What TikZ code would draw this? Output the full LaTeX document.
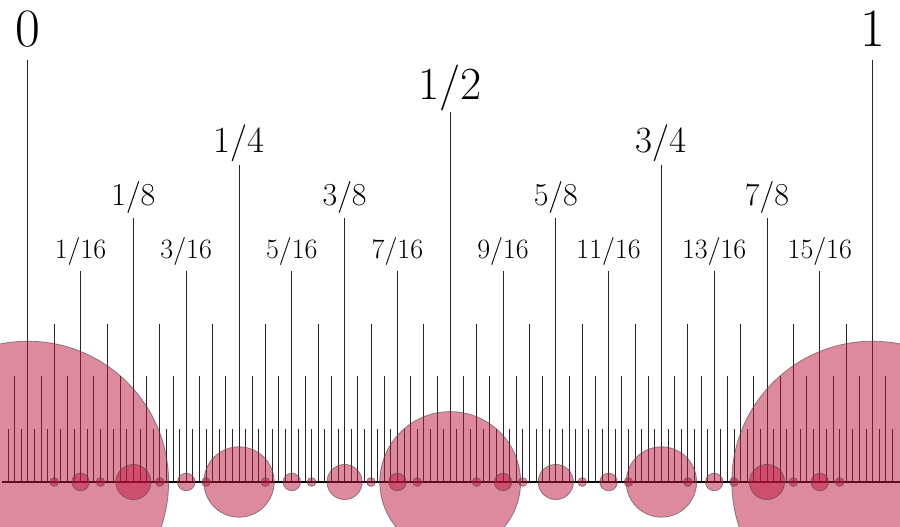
\documentclass[tikz,border=0pt]{standalone}
\usepackage{fontspec}
\definecolor{rosefill}{RGB}{189,21,61}
\begin{document}
\begin{tikzpicture}[x=1pt,y=1pt,
  tick/.style={draw=black!85,line width=0.9pt},
  axisline/.style={draw=black,line width=2.8pt},
  circ/.style={fill=rosefill,fill opacity=0.5,draw=black!70,draw opacity=0.6,line width=0.8pt},
  lab/.style={anchor=base,inner sep=0pt,text=black},
  lv0/.style={lab,font=\fontsize{54}{54}\selectfont},
  lv1/.style={lab,font=\fontsize{46}{46}\selectfont},
  lv2/.style={lab,font=\fontsize{37}{37}\selectfont},
  lv3/.style={lab,font=\fontsize{32}{32}\selectfont},
  lv4/.style={lab,font=\fontsize{28}{28}\selectfont}]
\useasboundingbox (0,0) rectangle (900,527);
\clip (0,0) rectangle (900,527);
\def\X{27.8}
\def\U{844.8}
\def\B{45}
\def\H{52.8}
% ticks (multiples of 1/128)
\foreach \i in {-3,-1,...,131} \draw[tick] ({\X+\U/128*\i},\B) -- ++(0,\H);
\foreach \i in {-2,2,...,130} \draw[tick] ({\X+\U/128*\i},\B) -- ++(0,2*\H);
\foreach \i in {4,12,...,124} \draw[tick] ({\X+\U/128*\i},\B) -- ++(0,3*\H);
\foreach \i in {8,24,...,120} \draw[tick] ({\X+\U/128*\i},\B) -- ++(0,4*\H);
\foreach \i in {16,48,80,112} \draw[tick] ({\X+\U/128*\i},\B) -- ++(0,5*\H);
\foreach \i in {32,96} \draw[tick] ({\X+\U/128*\i},\B) -- ++(0,6*\H);
\draw[tick] ({\X+\U/2},\B) -- ++(0,7*\H);
\foreach \i in {0,1} \draw[tick] ({\X+\U*\i},\B) -- ++(0,8*\H);
% axis
\coordinate (axL) at (2,\B);
\coordinate (axR) at (900,\B);
\draw[axisline] (axL) -- (axR);
% circles
\foreach \t in {0,1} \path[circ] ({\X+\U*\t},\B) circle ({\U/6});
\path[circ] ({\X+\U/2},\B) circle ({\U/12});
\foreach \n in {1,3} \path[circ] ({\X+\U/4*\n},\B) circle ({\U/24});
\foreach \n in {1,3,5,7} \path[circ] ({\X+\U/8*\n},\B) circle ({\U/48});
\foreach \n in {1,3,...,15} \path[circ] ({\X+\U/16*\n},\B) circle ({\U/96});
\foreach \n in {1,5,...,29} \path[circ] ({\X+\U/32*\n},\B) circle ({\U/192});
\foreach \n in {3,7,...,31} \path[circ] ({\X+\U/128*(4*\n-1)},\B) circle ({\U/192});
% labels
\node[lv0] (l0) at ({\X},{\B+8*\H+12.7}) {0};
\node[lv0] (l1) at ({\X+\U},{\B+8*\H+12.7}) {1};
\node[lv1] (l12) at ({\X+\U/2},{\B+7*\H+12.7}) {1/2};
\foreach \n in {1,3} \node[lv2] (l\n-4) at ({\X+\U/4*\n},{\B+6*\H+12.7}) {\n/4};
\foreach \n in {1,3,5,7} \node[lv3] (l\n-8) at ({\X+\U/8*\n},{\B+5*\H+12.7}) {\n/8};
\foreach \n in {1,3,...,15} \node[lv4] (l\n-16) at ({\X+\U/16*\n},{\B+4*\H+12.7}) {\n/16};
\end{tikzpicture}
\end{document}
